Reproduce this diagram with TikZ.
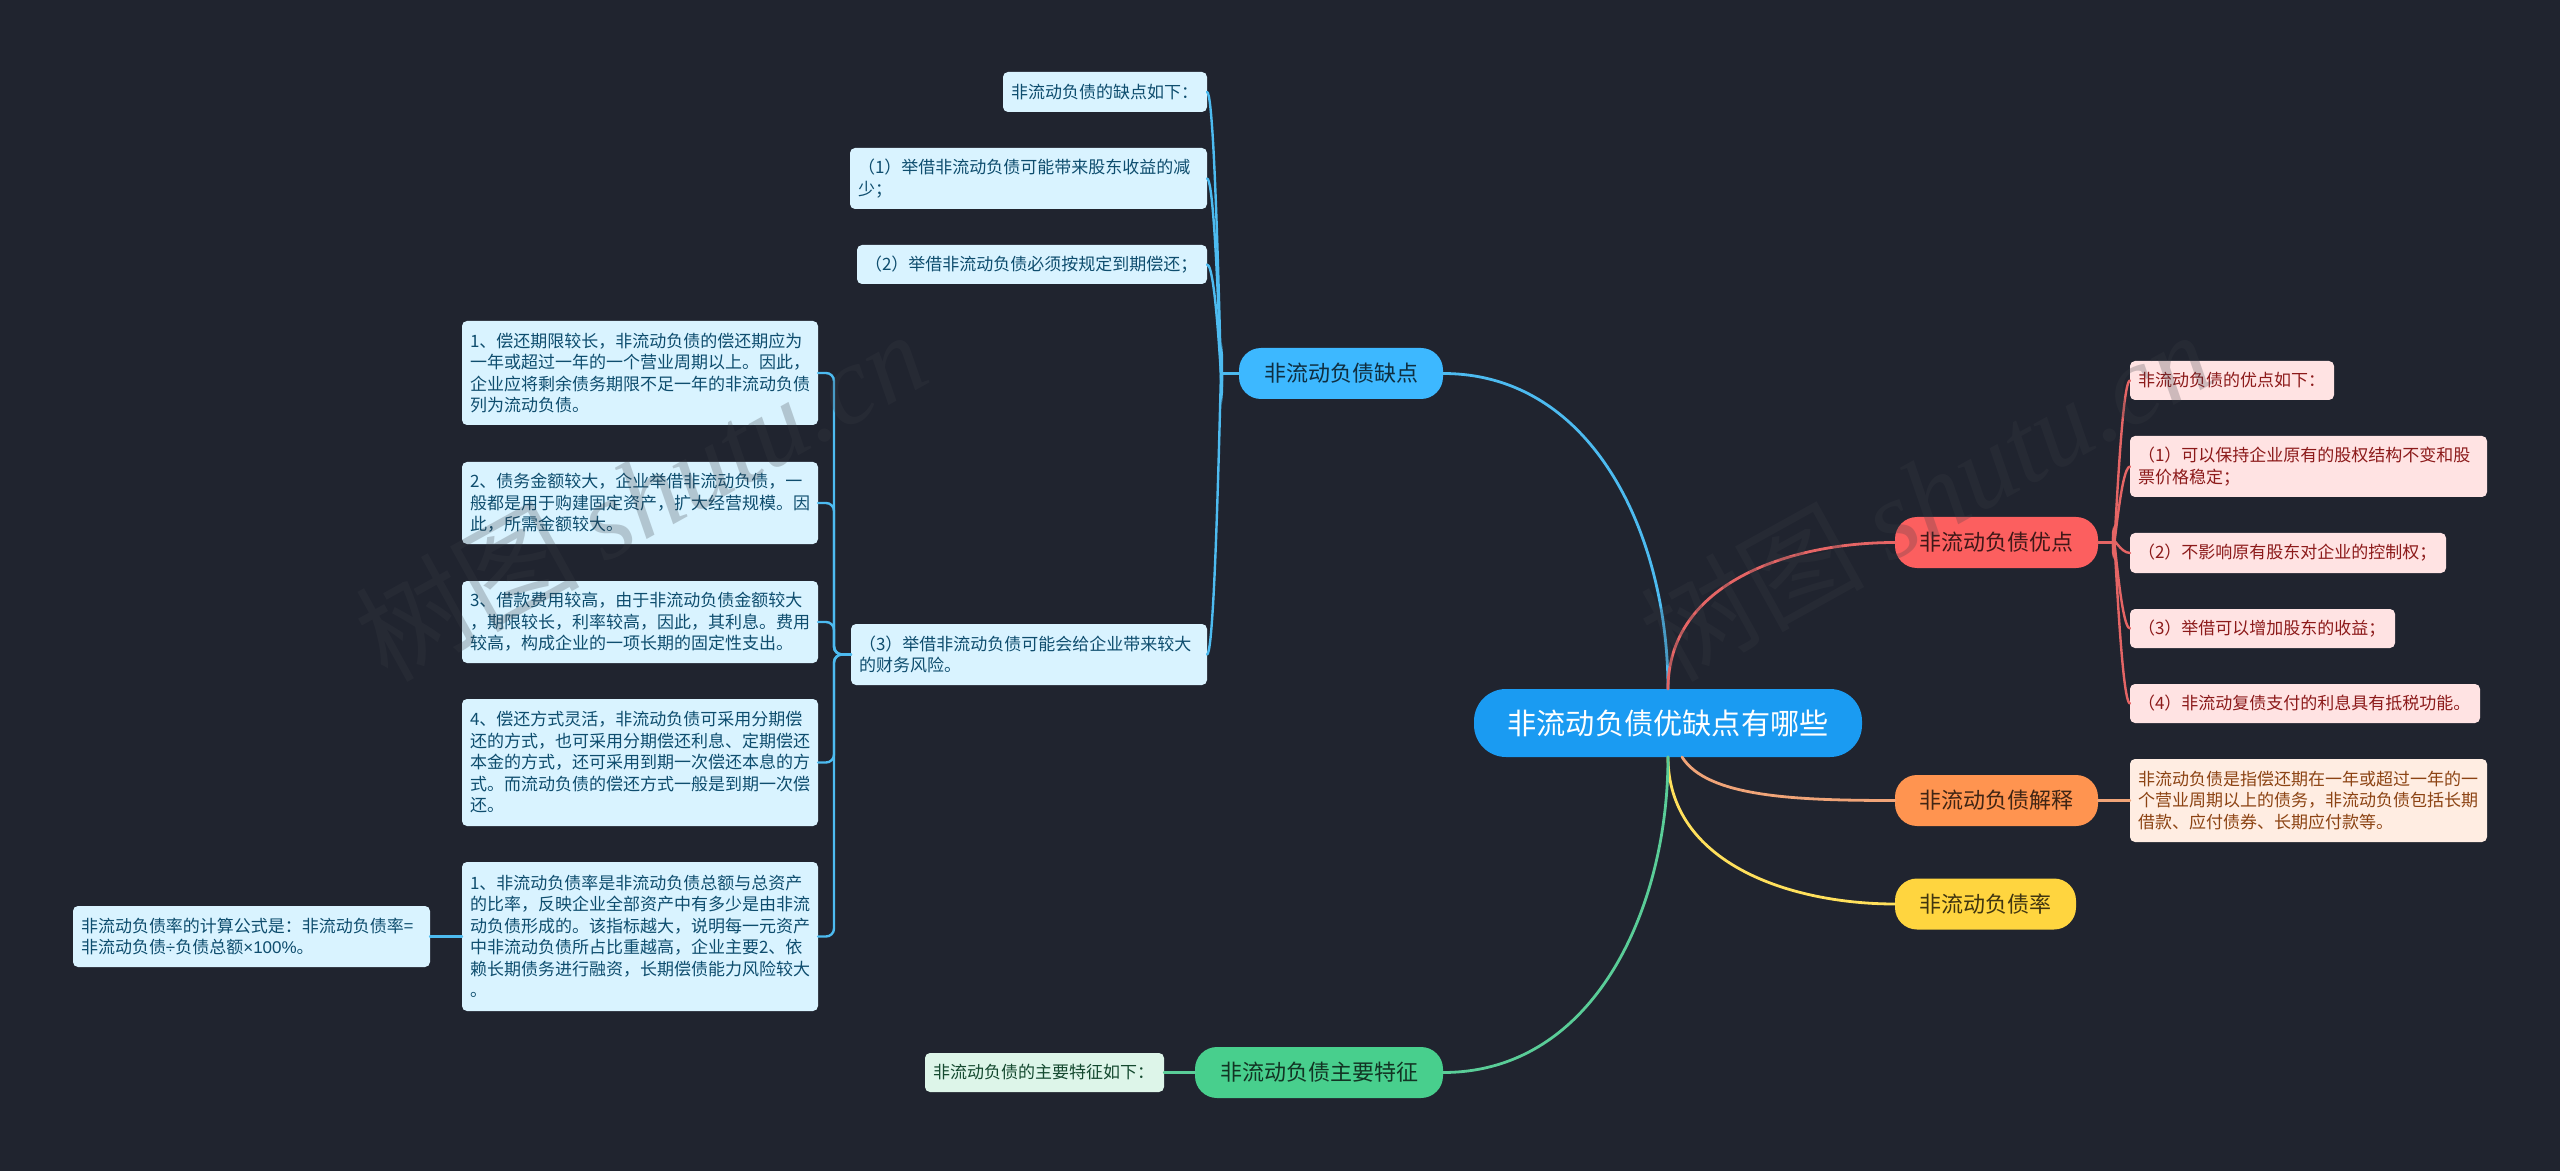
\documentclass[tikz,border=0pt]{standalone}
\usepackage{fontspec}
\setmainfont{Noto Sans CJK SC}
\newfontfamily\markserif{Liberation Serif}
\newfontfamily\latinsans{Liberation Sans}
\definecolor{bgdark}{HTML}{20242F}
\definecolor{rootc}{HTML}{1A9BF2}
\definecolor{bluec}{HTML}{3DB8FF}
\definecolor{redc}{HTML}{FC5F5F}
\definecolor{orangec}{HTML}{FF9450}
\definecolor{yellowc}{HTML}{FFD53F}
\definecolor{greenc}{HTML}{48CF8D}
\definecolor{blueline}{HTML}{4DBBF0}
\definecolor{redline}{HTML}{E56565}
\definecolor{orangeline}{HTML}{F0A478}
\definecolor{yellowline}{HTML}{FFE05C}
\definecolor{greenline}{HTML}{5ACD98}
\definecolor{bluefill}{HTML}{D9F3FF}
\definecolor{bluetext}{HTML}{0E4D6E}
\definecolor{redfill}{HTML}{FFE3E3}
\definecolor{redtext}{HTML}{8C1A1A}
\definecolor{orangefill}{HTML}{FFEDE2}
\definecolor{orangetext}{HTML}{8C4313}
\definecolor{greenfill}{HTML}{DDF5E9}
\definecolor{greentext}{HTML}{14492F}
\definecolor{markgray}{HTML}{3A3D45}
\tikzset{
  root/.style={rounded corners=16pt,fill=rootc,text=white,minimum width=194pt,minimum height=34pt,outer sep=0pt,
    font=\fontsize{14.6}{18}\selectfont},
  branch/.style 2 args={rounded corners=11pt,fill=#1,text=#2,minimum height=25.5pt,outer sep=0pt,inner sep=0pt,
    font=\fontsize{11}{14}\selectfont},
  leaf/.style 2 args={anchor=north west,rounded corners=2.5pt,text width=#1*.5pt-8pt,
    minimum height=#2*.5pt,inner xsep=4pt,inner ysep=0pt,outer sep=0pt,align=left,
    font=\fontsize{8.5}{10.75}\selectfont},
  blueleaf/.style={fill=bluefill,text=bluetext},
  redleaf/.style={fill=redfill,text=redtext},
  orangeleaf/.style={fill=orangefill,text=orangetext},
  greenleaf/.style={fill=greenfill,text=greentext},
  link/.style={line width=1.2pt,line cap=round},
  mainlink/.style={line width=1.4pt,line cap=round},
  wmark/.style={rotate=29,text=markgray,opacity=.25,font=\fontsize{56}{60}\selectfont},
}
\begin{document}
\begin{tikzpicture}[x=.5pt,y=-.5pt]
  \fill[bgdark] (0,0) rectangle (2560,1171);

  \node[root] (root) at (1668,723) {非流动负债优缺点有哪些};

  \node[branch={bluec}{black!75!bluec},minimum width=102pt] (minus) at (1341,373.5) {非流动负债缺点};
  \node[branch={redc}{black!75!redc},minimum width=101.5pt] (plus) at (1996.5,542.5) {非流动负债优点};
  \node[branch={orangec}{black!75!orangec},minimum width=101.5pt] (expl) at (1996.5,800.5) {非流动负债解释};
  \node[branch={yellowc}{black!75!yellowc},minimum width=90.5pt] (rate) at (1985.5,904) {非流动负债率};
  \node[branch={greenc}{black!75!greenc},minimum width=124pt] (feat) at (1319,1072.5) {非流动负债主要特征};

  \node[leaf={204}{40},blueleaf] (minus0) at (1003,72) {非流动负债的缺点如下：};
  \node[leaf={357}{61},blueleaf] (minus1) at (850,148) {（1）举借非流动负债可能带来股东收益的减\\少；};
  \node[leaf={350}{39},blueleaf] (minus2) at (857,245) {（2）举借非流动负债必须按规定到期偿还；};
  \node[leaf={356}{61},blueleaf] (minus3) at (851,624) {（3）举借非流动负债可能会给企业带来较大\\的财务风险。};

  \node[leaf={356}{104},blueleaf] (risk1) at (462,321) {1、偿还期限较长，非流动负债的偿还期应为\\一年或超过一年的一个营业周期以上。因此，\\企业应将剩余债务期限不足一年的非流动负债\\列为流动负债。};
  \node[leaf={356}{82},blueleaf] (risk2) at (462,462) {2、债务金额较大，企业举借非流动负债，一\\般都是用于购建固定资产，扩大经营规模。因\\此，所需金额较大。};
  \node[leaf={356}{82},blueleaf] (risk3) at (462,581) {3、借款费用较高，由于非流动负债金额较大\\，期限较长，利率较高，因此，其利息。费用\\较高，构成企业的一项长期的固定性支出。};
  \node[leaf={356}{127},blueleaf] (risk4) at (462,699) {4、偿还方式灵活，非流动负债可采用分期偿\\还的方式，也可采用分期偿还利息、定期偿还\\本金的方式，还可采用到期一次偿还本息的方\\式。而流动负债的偿还方式一般是到期一次偿\\还。};
  \node[leaf={356}{149},blueleaf] (risk5) at (462,862) {1、非流动负债率是非流动负债总额与总资产\\的比率，反映企业全部资产中有多少是由非流\\动负债形成的。该指标越大，说明每一元资产\\中非流动负债所占比重越高，企业主要2、依\\赖长期债务进行融资，长期偿债能力风险较大\\。};
  \node[leaf={357}{61},blueleaf] (formula) at (73,906) {非流动负债率的计算公式是：非流动负债率=\\非流动负债{\latinsans ÷}负债总额{\latinsans ×100\%}。};

  \node[leaf={204}{39},redleaf] (plus0) at (2130,361) {非流动负债的优点如下：};
  \node[leaf={357}{61},redleaf] (plus1) at (2130,436) {（1）可以保持企业原有的股权结构不变和股\\票价格稳定；};
  \node[leaf={316}{40},redleaf] (plus2) at (2130,533) {（2）不影响原有股东对企业的控制权；};
  \node[leaf={265}{39},redleaf] (plus3) at (2130,609) {（3）举借可以增加股东的收益；};
  \node[leaf={350}{39},redleaf] (plus4) at (2130,684) {（4）非流动复债支付的利息具有抵税功能。};

  \node[leaf={357}{83},orangeleaf] (expl0) at (2130,759) {非流动负债是指偿还期在一年或超过一年的一\\个营业周期以上的债务，非流动负债包括长期\\借款、应付债券、长期应付款等。};
  \node[leaf={239}{39},greenleaf] (feat0) at (925,1053) {非流动负债的主要特征如下：};

  % main curves
  \draw[mainlink,blueline] (root.north) to[out=90,in=0] (minus.east);
  \draw[mainlink,redline] (root.north) to[out=90,in=180] (plus.west);
  \draw[mainlink,orangeline] ([xshift=7pt]root.south) .. controls +(25,40) and +(-100,0) .. (expl.west);
  \draw[mainlink,yellowline] (root.south) to[out=-90,in=180] (rate.west);
  \draw[mainlink,greenline] (root.south) to[out=-90,in=0] (feat.east);

  % leaves
  \foreach \n in {minus0,minus1,minus2}
    \draw[link,blueline] (minus.west) -- ++(-17,0) to[out=-90,in=0,in distance=5pt] (\n.east);
  \draw[link,blueline] (minus.west) -- ++(-17,0) to[out=90,in=0,in distance=5pt] (minus3.east);
  \foreach \n in {risk1,risk2,risk3,risk4,risk5}
    \draw[link,blueline,rounded corners=4pt] (minus3.west) -- ++(-17,0) |- (\n.east);
  \draw[link,blueline] (risk5.west) -- (formula.east);

  \foreach \n in {plus0,plus1}
    \draw[link,redline] (plus.east) -- ++(15,0) to[out=-90,in=180,in distance=5pt] (\n.west);
  \foreach \n in {plus2,plus3,plus4}
    \draw[link,redline] (plus.east) -- ++(15,0) to[out=90,in=180,in distance=5pt] (\n.west);
  \draw[link,orangeline] (expl.east) -- (expl.east -| expl0.west);
  \draw[link,greenline] (feat.west) -- (feat0.east);

  % watermark
  \node[wmark] (markl) at (640,495) {树图 {\markserif\itshape shutu.cn}};
  \node[wmark] (markr) at (1925,495) {树图 {\markserif\itshape shutu.cn}};
\end{tikzpicture}
\end{document}
